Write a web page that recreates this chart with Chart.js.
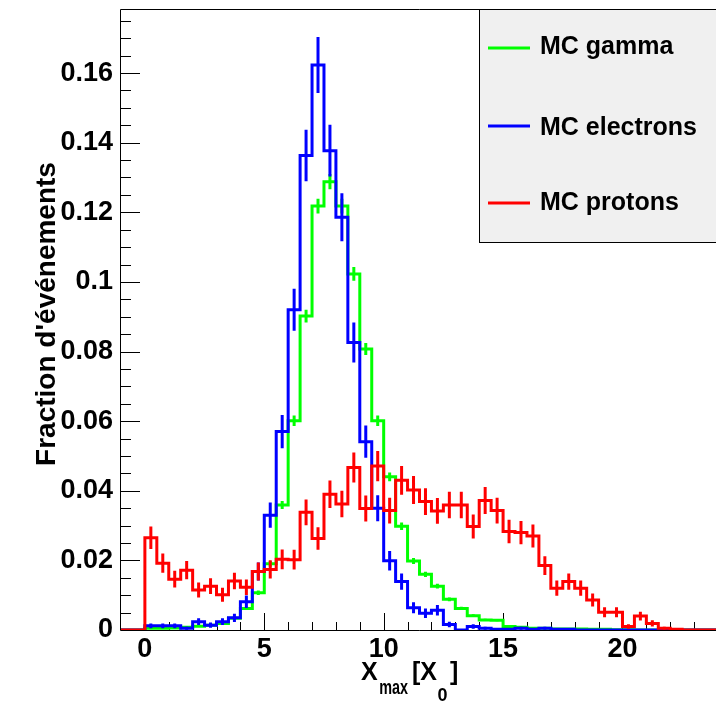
<!DOCTYPE html>
<html>
<head>
<meta charset="utf-8">
<script src="https://cdn.jsdelivr.net/npm/chart.js@4.4.1/dist/chart.umd.min.js"></script>
<style>
  html, body { margin: 0; padding: 0; overflow: hidden; background: #fff; }
  canvas { display: block; }
</style>
</head>
<body>
<canvas id="xmax" width="718" height="701"></canvas>
<script>
// Binning of the Xmax histograms: 0.5 X0 wide bins covering [-1, 24]
const binLow = -1;
const binWidth = 0.5;

// Fraction of events per bin (the two bins below 0 are empty)
const gammaFrac = [0, 0,
  0.0005, 0.0005, 0.0006, 0.0008, 0.0011, 0.0014, 0.0019, 0.0034, 0.0062, 0.0107,
  0.0190, 0.0359, 0.0601, 0.0902, 0.1218, 0.1288, 0.1218, 0.1023, 0.0807, 0.0601,
  0.0440, 0.0298, 0.0198, 0.0160, 0.0126, 0.0088, 0.0062, 0.0041, 0.0029, 0.0028,
  0.0010, 0.0008, 0.0005, 0.0005, 0.0003, 0.0003, 0.0003, 0.0002, 0.0002, 0.0001,
  0.0001, 0, 0, 0, 0, 0, 0, 0];

const electronFrac = [0, 0,
  0.0012, 0.0012, 0.0012, 0.0005, 0.0024, 0.0014, 0.0024, 0.0035, 0.0081, 0.0168,
  0.0330, 0.0570, 0.0920, 0.1363, 0.1623, 0.1377, 0.1186, 0.0826, 0.0541, 0.0350,
  0.0199, 0.0139, 0.0064, 0.0048, 0.0057, 0.0016, 0, 0.0010, 0.0005, 0.0002,
  0.0002, 0.0005, 0.0002, 0.0005, 0.0002, 0.0002, 0, 0, 0, 0,
  0, 0, 0, 0, 0, 0, 0, 0];

const protonFrac = [0, 0,
  0.0265, 0.0192, 0.0146, 0.0172, 0.0115, 0.0126, 0.0101, 0.0141, 0.0123, 0.0168,
  0.0174, 0.0203, 0.0202, 0.0338, 0.0263, 0.0390, 0.0362, 0.0467, 0.0349, 0.0471,
  0.0343, 0.0430, 0.0402, 0.0369, 0.0342, 0.0359, 0.0359, 0.0297, 0.0372, 0.0343,
  0.0283, 0.0280, 0.0270, 0.0185, 0.0120, 0.0139, 0.0120, 0.0086, 0.0051, 0.0051,
  0.0010, 0.0040, 0.0019, 0.0005, 0.0002, 0, 0, 0];

// Simulated events in each sample (statistical error bars: sqrt(f / N))
const gammaEntries = 27000;
const electronEntries = 2500;
const protonEntries = 2500;

// Axis ticks and labels
const xTickValues = [0, 5, 10, 15, 20];
const xTickLabels = ['0', '5', '10', '15', '20'];
const yTickValues = [0, 0.02, 0.04, 0.06, 0.08, 0.1, 0.12, 0.14, 0.16];
const yTickLabels = ['0', '0.02', '0.04', '0.06', '0.08', '0.1', '0.12', '0.14', '0.16'];
const xRange = [-1, 24];
const yRange = [0, 0.1784];

const FONT = '"Liberation Sans", Arial, Helvetica, sans-serif';

// Histogram outline: one point per lower bin edge, plus the last upper edge
function stepPoints(frac) {
  const pts = frac.map((v, i) => ({ x: binLow + i * binWidth, y: v }));
  pts.push({ x: binLow + frac.length * binWidth, y: frac[frac.length - 1] });
  return pts;
}

function histDataset(label, color, frac, entries, order) {
  return {
    label, frac, entries, order,
    data: stepPoints(frac),
    borderColor: color,
    backgroundColor: color,
    borderWidth: 3,
    stepped: 'before',
    pointRadius: 0,
    fill: false,
    borderJoinStyle: 'miter',
    borderCapStyle: 'butt'
  };
}

// Frame, inward tick marks (major + minor) on both axes
const framePlugin = {
  id: 'frame',
  beforeDatasetsDraw(chart) {
    const { ctx, chartArea: a, scales: { x, y } } = chart;
    ctx.save();
    ctx.strokeStyle = '#000';
    ctx.lineWidth = 1;
    ctx.beginPath();
    ctx.moveTo(a.left - 0.5, a.top + 0.5);
    ctx.lineTo(a.left - 0.5, a.bottom + 0.5);
    ctx.lineTo(a.right, a.bottom + 0.5);
    ctx.moveTo(a.left - 0.5, a.top + 0.5);
    ctx.lineTo(a.right, a.top + 0.5);
    ctx.stroke();

    ctx.beginPath();
    // x axis: minor every 1, major every 5
    for (let v = Math.ceil(x.min); v <= x.max; v++) {
      const px = Math.round(x.getPixelForValue(v)) + 0.5;
      if (px <= a.left + 1 || px >= a.right - 1) continue;
      const len = (v % 5 === 0) ? 17 : 8;
      ctx.moveTo(px, a.bottom);
      ctx.lineTo(px, a.bottom - len);
    }
    // y axis: minor every 0.005, major every 0.02
    for (let k = 1; k * 0.005 <= y.max; k++) {
      const py = Math.round(y.getPixelForValue(k * 0.005)) + 0.5;
      const len = (k % 4 === 0) ? 19 : 10;
      ctx.moveTo(a.left, py);
      ctx.lineTo(a.left + len, py);
    }
    ctx.stroke();
    ctx.restore();
  }
};

// Vertical statistical error bars at bin centres, drawn with each histogram
const errorBarPlugin = {
  id: 'errorBars',
  afterDatasetDraw(chart, args) {
    const ds = chart.data.datasets[args.index];
    const { ctx, chartArea: a, scales: { x, y } } = chart;
    ctx.save();
    ctx.beginPath();
    ctx.rect(a.left, a.top, a.right - a.left, a.bottom - a.top);
    ctx.clip();
    ctx.strokeStyle = ds.borderColor;
    ctx.lineWidth = 3;
    ctx.beginPath();
    ds.frac.forEach((v, i) => {
      if (v <= 0) return;
      const err = Math.sqrt(v / ds.entries);
      const px = x.getPixelForValue(binLow + (i + 0.5) * binWidth);
      ctx.moveTo(px, y.getPixelForValue(v - err));
      ctx.lineTo(px, y.getPixelForValue(v + err));
    });
    ctx.stroke();
    ctx.restore();
  }
};

// Axis titles and the legend box
const annotatePlugin = {
  id: 'annotate',
  afterDraw(chart) {
    const { ctx, chartArea: a } = chart;
    ctx.save();
    ctx.fillStyle = '#000';

    // y title, rotated
    ctx.save();
    ctx.translate(55, 314);
    ctx.rotate(-Math.PI / 2);
    ctx.font = 'bold 28px ' + FONT;
    ctx.textAlign = 'center';
    ctx.textBaseline = 'alphabetic';
    ctx.fillText("Fraction d'événements", 0, 0);
    ctx.restore();

    // x title: X_max [X_0]
    ctx.textAlign = 'left';
    ctx.textBaseline = 'alphabetic';
    let cx = 361;
    const big = 'bold 25px ' + FONT;
    const sub = 'bold 20px ' + FONT;
    const small = 'bold 18px ' + FONT;
    ctx.font = big;
    ctx.fillText('X', cx, 680);
    cx += ctx.measureText('X').width + 1.5;
    ctx.save();
    ctx.font = sub;
    ctx.translate(cx, 694);
    ctx.scale(0.72, 1);
    ctx.fillText('max', 0, 0);
    const maxW = ctx.measureText('max').width * 0.72;
    ctx.restore();
    cx += maxW + 4;
    ctx.font = big;
    ctx.fillText('[X', cx, 680);
    cx += ctx.measureText('[X').width + 0.5;
    ctx.font = small;
    ctx.fillText('0', cx, 701);
    cx += ctx.measureText('0').width + 2.5;
    ctx.font = big;
    ctx.fillText(']', cx, 680);

    // legend
    const lx = 479.5, ly = a.top + 0.5, lh = 233;
    ctx.fillStyle = '#f0f0f0';
    ctx.fillRect(lx, ly, chart.width - lx + 5, lh);
    ctx.strokeStyle = '#000';
    ctx.lineWidth = 1;
    ctx.strokeRect(lx, ly, chart.width - lx + 5, lh);
    const rows = [
      { ds: chart.data.datasets[0], lineY: 48, baseY: 54 },
      { ds: chart.data.datasets[1], lineY: 126, baseY: 135 },
      { ds: chart.data.datasets[2], lineY: 203, baseY: 210 }
    ];
    ctx.font = 'bold 25px ' + FONT;
    rows.forEach(r => {
      ctx.strokeStyle = r.ds.borderColor;
      ctx.lineWidth = 3;
      ctx.beginPath();
      ctx.moveTo(488, r.lineY);
      ctx.lineTo(530, r.lineY);
      ctx.stroke();
      ctx.fillStyle = '#000';
      ctx.fillText(r.ds.label, 540, r.baseY);
    });
    ctx.restore();
  }
};

new Chart(document.getElementById('xmax'), {
  type: 'line',
  data: {
    datasets: [
      histDataset('MC gamma', '#00ff00', gammaFrac, gammaEntries, 2),
      histDataset('MC electrons', '#0000ff', electronFrac, electronEntries, 1),
      histDataset('MC protons', '#ff0000', protonFrac, protonEntries, 0)
    ]
  },
  options: {
    responsive: false,
    animation: false,
    events: [],
    layout: { padding: { top: 9, left: 0, right: 0, bottom: 0 } },
    plugins: { legend: { display: false }, tooltip: { enabled: false } },
    scales: {
      x: {
        type: 'linear',
        min: xRange[0],
        max: xRange[1],
        afterFit: s => { s.height = 71; s.paddingLeft = 0; s.paddingRight = 0; },
        afterBuildTicks: s => { s.ticks = xTickValues.map(v => ({ value: v })); },
        grid: { display: false, drawTicks: false },
        border: { display: false },
        ticks: {
          autoSkip: false,
          maxRotation: 0,
          padding: 3,
          color: '#000',
          font: { family: FONT, weight: 'bold', size: 27 },
          callback: (v, i) => xTickLabels[i]
        }
      },
      y: {
        type: 'linear',
        min: yRange[0],
        max: yRange[1],
        afterFit: s => { s.width = 121; s.paddingTop = 0; s.paddingBottom = 0; },
        afterBuildTicks: s => { s.ticks = yTickValues.map(v => ({ value: v })); },
        grid: { display: false, drawTicks: false },
        border: { display: false },
        ticks: {
          autoSkip: false,
          padding: 8,
          color: '#000',
          font: { family: FONT, weight: 'bold', size: 27 },
          callback: (v, i) => yTickLabels[i]
        }
      }
    }
  },
  plugins: [framePlugin, errorBarPlugin, annotatePlugin]
});
</script>
</body>
</html>
